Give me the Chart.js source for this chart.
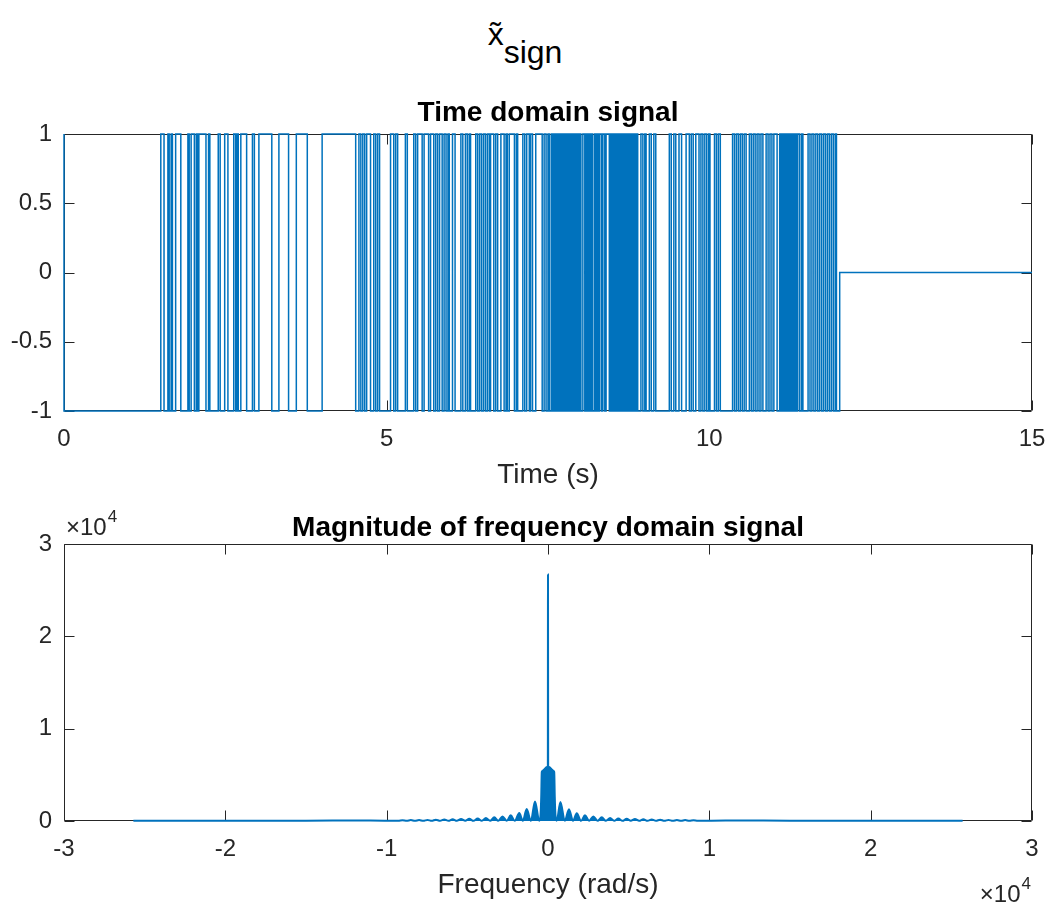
<!DOCTYPE html>
<html>
<head>
<meta charset="utf-8">
<script src="https://cdn.jsdelivr.net/npm/chart.js@4.4.1/dist/chart.umd.min.js"></script>
<style>
  body { margin: 0; background: #fff; width: 1050px; height: 905px; position: relative; overflow: hidden;
         font-family: "Liberation Sans", Arial, Helvetica, sans-serif; }
  #supt { position: absolute; top: 18px; left: 0; width: 1050px; text-align: center;
          font-size: 32px; line-height: 32px; color: #000; }
  #supt .sub { position: relative; top: 18px; font-size: 32px; }
  canvas { position: absolute; left: 0; }
  #timeChart { top: 95px; }
  #freqChart { top: 480px; }
</style>
</head>
<body>
<div id="supt"><span>x&#x0303;</span><span class="sub">sign</span></div>
<canvas id="timeChart" width="1050" height="400"></canvas>
<canvas id="freqChart" width="1050" height="425"></canvas>
<script>
// time domain: the signal flips between -1 and +1 at these times (s)
var startLevel = 1;
var switchTimes = [0,
  1.50, 1.55, 1.61, 1.63, 1.66, 1.68, 1.73, 1.81, 1.92, 1.94, 1.97, 2.02, 2.05, 2.07, 2.09, 2.20, 2.24,
  2.26, 2.39, 2.42, 2.49, 2.54, 2.63, 2.66, 2.68, 2.70, 2.74, 2.83, 2.92, 2.95, 3.02, 3.22, 3.33, 3.48,
  3.60, 3.77, 4.00, 4.52, 4.57, 4.60, 4.63, 4.66, 4.69, 4.75, 4.80, 4.83, 4.86, 4.89, 5.06, 5.11, 5.14,
  5.17, 5.29, 5.32, 5.42, 5.45, 5.48, 5.55, 5.58, 5.65, 5.68,
  5.73, 5.76, 5.79, 5.82, 5.86, 5.89, 5.92, 5.95, 5.97, 6.02, 6.06, 6.15, 6.18, 6.22, 6.25, 6.28, 6.30,
  6.38, 6.41, 6.44, 6.47, 6.50, 6.53, 6.56, 6.59, 6.61, 6.66, 6.69, 6.72, 6.77, 6.82, 6.85, 6.87, 6.90,
  6.98, 7.01, 7.03, 7.11, 7.14, 7.17, 7.21, 7.23, 7.26, 7.31, 7.41, 7.44, 7.47, 7.50, 7.52, 7.55, 7.57,
  7.59, 7.61, 7.63, 7.65, 7.67, 7.69, 7.71, 7.73, 7.75, 7.77, 7.79, 7.81,
  7.83, 7.85, 7.87, 7.89, 7.91, 7.93, 7.95, 7.97, 7.99, 8.01, 8.04, 8.07, 8.09, 8.11, 8.13, 8.15, 8.17,
  8.19, 8.22, 8.24, 8.26, 8.28, 8.30, 8.33, 8.35, 8.38, 8.40, 8.45, 8.47, 8.49, 8.51, 8.53, 8.55, 8.57,
  8.59, 8.61, 8.63, 8.65, 8.67, 8.69, 8.71, 8.73, 8.75, 8.77, 8.79, 8.81, 8.83, 8.85, 8.87, 8.89, 8.94,
  8.97, 9.00, 9.02, 9.07, 9.10, 9.14, 9.17, 9.38, 9.41, 9.45, 9.48, 9.53, 9.57, 9.64, 9.69, 9.72, 9.75,
  9.79,
  9.84, 9.87, 9.90, 9.93, 9.96, 9.99, 10.01, 10.08, 10.11, 10.14, 10.17, 10.36, 10.39, 10.42, 10.45,
  10.48, 10.51, 10.54, 10.57, 10.62, 10.65, 10.68, 10.71, 10.74, 10.77, 10.80, 10.83, 10.88, 10.91,
  10.94, 10.97, 11.00, 11.05, 11.09, 11.11, 11.13, 11.15, 11.17, 11.19, 11.21, 11.23, 11.25, 11.27,
  11.29, 11.31, 11.33, 11.35, 11.37, 11.40, 11.43, 11.45, 11.53, 11.56, 11.59, 11.62, 11.65, 11.68,
  11.71, 11.74, 11.77, 11.80, 11.83, 11.86, 11.89, 11.92, 11.95, 11.97];
var stopTime = 12.02;   // after this the signal is 0
var endTime = 15;

// frequency domain magnitude (rad/s, |X|)
var specFreq = [-25700, -20000, -15000, -11000, -9280, -9020, -8760, -8500, -8250, -7990, -7730, -7470,
  -7210, -6950, -6690, -6430, -6170, -5910, -5650, -5390, -5130, -4880, -4620, -4360, -4100, -3850,
  -3590, -3330, -3080, -2820, -2560, -2310, -2060, -1780, -1560, -1320, -1060, -806, -540, -460, -420,
  -385, -330, -250, -150, -60, -10, 0, 10, 60, 150, 250, 330, 385, 420, 460, 540, 770, 1040, 1300,
  1550, 1780, 2050, 2290, 2550, 2810, 3070, 3330, 3590, 3850, 4100, 4360, 4620, 4880, 5130, 5390, 5650,
  5910, 6170, 6430, 6690, 6950, 7210, 7470, 7730, 7990, 8250, 8500, 8760, 9020, 9280, 11000, 15000,
  20000, 25700];
var specMag = [30, 35, 40, 50, 20, 90, 15, 100, 15, 110, 15, 120,
  15, 140, 15, 160, 15, 180, 15, 210, 15, 240, 15, 280, 15, 330,
  15, 410, 15, 500, 15, 620, 15, 860, 15, 1300, 15, 2100, 15, 700, 2600,
  5300, 5450, 5550, 5750, 5850, 5900, 26700, 5900, 5850, 5750, 5550, 5450, 5300, 2600, 700, 15, 2050, 15, 1270,
  15, 840, 15, 620, 15, 500, 15, 410, 15, 330, 15, 280, 15, 240, 15, 210, 15,
  180, 15, 160, 15, 140, 15, 120, 15, 110, 15, 100, 15, 90, 20, 50, 40,
  35, 30];

var blue = '#0072BD';
var axisColor = '#262626';
var fontFam = '"Liberation Sans", Arial, Helvetica, sans-serif';

Chart.defaults.font.family = fontFam;
Chart.defaults.color = axisColor;

// step points for the time signal
var timePoints = [];
var lvl = startLevel;
timePoints.push({ x: 0, y: lvl });
for (var i = 0; i < switchTimes.length; i++) {
  timePoints.push({ x: switchTimes[i], y: lvl });
  lvl = -lvl;
  timePoints.push({ x: switchTimes[i], y: lvl });
}
timePoints.push({ x: stopTime, y: lvl }, { x: stopTime, y: 0 }, { x: endTime, y: 0 });

var specPoints = [];
for (var i = 0; i < specFreq.length; i++) {
  specPoints.push({ x: specFreq[i], y: specMag[i] });
}

// matlab style box, inward ticks, title and x10^4 labels
var matlabAxes = {
  id: 'matlabAxes',
  beforeDatasetsDraw: function (chart) {
    var ctx = chart.ctx, a = chart.chartArea, xs = chart.scales.x, ys = chart.scales.y;
    var L = Math.round(a.left) + 0.5, R = Math.round(a.right) - 0.5;
    var T = Math.round(a.top) + 0.5, B = Math.round(a.bottom) - 0.5;
    var tl = 10;
    ctx.save();
    ctx.strokeStyle = axisColor;
    ctx.lineWidth = 1;
    ctx.beginPath();
    ctx.rect(L, T, R - L, B - T);
    xs.ticks.forEach(function (t) {
      var p = Math.round(xs.getPixelForValue(t.value)) + 0.5;
      ctx.moveTo(p, B); ctx.lineTo(p, B - tl);
      ctx.moveTo(p, T); ctx.lineTo(p, T + tl);
    });
    ys.ticks.forEach(function (t) {
      var p = Math.round(ys.getPixelForValue(t.value)) + 0.5;
      ctx.moveTo(L, p); ctx.lineTo(L + tl, p);
      ctx.moveTo(R, p); ctx.lineTo(R - tl, p);
    });
    ctx.stroke();
    ctx.restore();
  },
  afterDraw: function (chart, args, o) {
    var ctx = chart.ctx, a = chart.chartArea;
    ctx.save();
    ctx.fillStyle = '#000';
    ctx.font = 'bold 28px ' + fontFam;
    ctx.textAlign = 'center';
    ctx.textBaseline = 'alphabetic';
    ctx.fillText(o.title, (a.left + a.right) / 2, a.top - o.titleGap);
    ctx.fillStyle = axisColor;
    (o.exponents || []).forEach(function (e) {
      ctx.font = '24px ' + fontFam;
      var w1 = ctx.measureText('\u00d710').width;
      ctx.font = '17px ' + fontFam;
      var w2 = ctx.measureText('4').width;
      var x0 = e.side === 'right' ? a.right - 2 - w1 - w2 : a.left + 2;
      var y0 = e.side === 'right' ? a.bottom + 81 : a.top - 9;
      ctx.textAlign = 'left';
      ctx.font = '24px ' + fontFam;
      ctx.fillText('\u00d710', x0, y0);
      ctx.font = '17px ' + fontFam;
      ctx.fillText('4', x0 + w1 + 1, y0 - 13);
    });
    ctx.restore();
  }
};

function fmt(v) { return String(Math.round(v * 100) / 100); }

function baseScales(xTitle) {
  return {
    x: {
      type: 'linear',
      grid: { display: false, drawTicks: false },
      border: { display: false },
      ticks: { padding: 14, font: { size: 24 }, color: axisColor, maxRotation: 0, autoSkip: false, callback: fmt },
      title: { display: true, text: xTitle, font: { size: 28 }, color: axisColor, padding: { top: 4, bottom: 3 } },
      afterFit: function (s) { s.height = 84; s.paddingLeft = 0; s.paddingRight = 0; }
    },
    y: {
      type: 'linear',
      grid: { display: false, drawTicks: false },
      border: { display: false },
      ticks: { padding: 12, font: { size: 24 }, color: axisColor, callback: fmt },
      afterFit: function (s) { s.width = 64; s.paddingTop = 0; s.paddingBottom = 0; }
    }
  };
}

var s1 = baseScales('Time (s)');
s1.x.min = 0; s1.x.max = 15; s1.x.ticks.stepSize = 5;
s1.y.min = -1; s1.y.max = 1; s1.y.ticks.stepSize = 0.5;

new Chart(document.getElementById('timeChart'), {
  type: 'line',
  data: {
    datasets: [{
      data: timePoints,
      borderColor: blue,
      borderWidth: 1.5,
      pointRadius: 0,
      fill: false,
      tension: 0,
      clip: false
    }]
  },
  options: {
    responsive: false,
    animation: false,
    events: [],
    layout: { padding: { top: 39, right: 18, left: 0, bottom: 0 } },
    plugins: {
      legend: { display: false },
      tooltip: { enabled: false },
      matlabAxes: { title: 'Time domain signal', titleGap: 13 }
    },
    scales: s1
  },
  plugins: [matlabAxes]
});

var s2 = baseScales('Frequency (rad/s)');
s2.x.min = -30000; s2.x.max = 30000; s2.x.ticks.stepSize = 10000;
s2.x.ticks.callback = function (v) { return fmt(v / 10000); };
s2.y.min = 0; s2.y.max = 30000; s2.y.ticks.stepSize = 10000;
s2.y.ticks.callback = function (v) { return fmt(v / 10000); };

new Chart(document.getElementById('freqChart'), {
  type: 'line',
  data: {
    datasets: [{
      data: specPoints,
      borderColor: blue,
      backgroundColor: blue,
      borderWidth: 2,
      pointRadius: 0,
      fill: 'origin',
      cubicInterpolationMode: 'monotone',
      clip: false
    }]
  },
  options: {
    responsive: false,
    animation: false,
    events: [],
    layout: { padding: { top: 64, right: 18, left: 0, bottom: 0 } },
    plugins: {
      legend: { display: false },
      tooltip: { enabled: false },
      matlabAxes: {
        title: 'Magnitude of frequency domain signal', titleGap: 8,
        exponents: [{ side: 'left' }, { side: 'right' }]
      }
    },
    scales: s2
  },
  plugins: [matlabAxes]
});
</script>
</body>
</html>
